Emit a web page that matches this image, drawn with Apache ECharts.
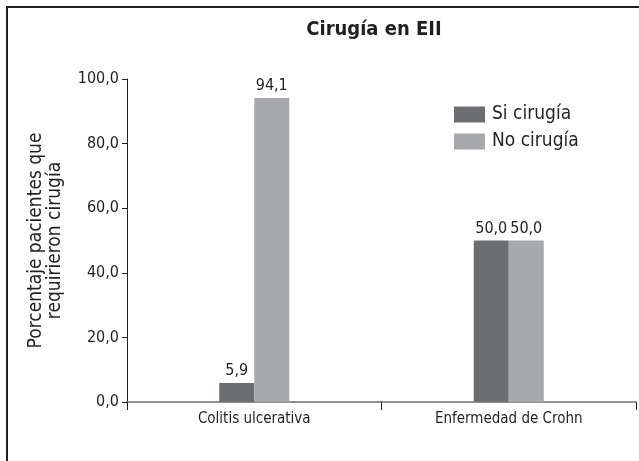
<!DOCTYPE html>
<html>
<head>
<meta charset="utf-8">
<script src="https://cdn.jsdelivr.net/npm/echarts@6/dist/echarts.min.js"></script>
<style>
  html, body { margin: 0; padding: 0; background: #fff; }
  #chart { width: 639px; height: 461px; }
</style>
</head>
<body>
<div id="chart"></div>
<script>
    var categories = ['Colitis ulcerativa', 'Enfermedad de Crohn'];
    var siCirugia = [5.9, 50.0];
    var noCirugia = [94.1, 50.0];
    var seriesNames = ['Si cirugía', 'No cirugía'];

    var font = "'Liberation Sans Narrow', 'DejaVu Sans Condensed', 'Liberation Sans', sans-serif";
    var txt = '#231f20';

    // coma decimal como en el original
    function coma(v) {
        return Number(v).toFixed(1).replace('.', ',');
    }

    var myChart = echarts.init(document.getElementById('chart'));

    var option = {
        backgroundColor: '#fff',
        animation: false,
        textStyle: { fontFamily: font, color: txt },
        title: {
            text: 'Cirugía en EII',
            left: 369,
            textAlign: 'center',
            top: 15,
            textStyle: { fontFamily: font, fontSize: 20, fontWeight: 'bold', color: txt }
        },
        legend: {
            orient: 'vertical',
            left: 449,
            top: 100,
            itemWidth: 31,
            itemHeight: 16,
            itemGap: 8,
            icon: 'rect',
            textStyle: { fontFamily: font, fontSize: 19, color: txt, padding: [0, 0, 0, 2] },
            data: seriesNames
        },
        grid: { left: 127, right: 3, top: 79, bottom: 59, containLabel: false },
        xAxis: {
            type: 'category',
            data: categories,
            axisLine: { lineStyle: { color: '#6d6e71', width: 1.5 } },
            axisTick: { show: true, length: 8, lineStyle: { color: '#231f20' } },
            axisLabel: { fontFamily: font, fontSize: 15, color: txt, margin: 10 }
        },
        yAxis: {
            type: 'value',
            min: 0,
            max: 100,
            interval: 20,
            name: 'Porcentaje pacientes que\nrequirieron cirugía',
            nameLocation: 'middle',
            nameGap: 62,
            nameTextStyle: { fontFamily: font, fontSize: 19, color: txt, lineHeight: 19 },
            axisLine: { show: true, lineStyle: { color: '#231f20' } },
            axisTick: { show: true, length: 5, lineStyle: { color: '#231f20' } },
            splitLine: { show: false },
            axisLabel: {
                fontFamily: font, fontSize: 16, color: txt, margin: 8,
                formatter: function(v) { return coma(v); }
            }
        },
        series: [{
            name: seriesNames[0],
            type: 'bar',
            data: siCirugia,
            barWidth: 35,
            barGap: '0%',
            itemStyle: { color: '#6d6e71' },
            label: {
                show: true, position: 'top', distance: 4,
                fontFamily: font, fontSize: 16, color: txt,
                formatter: function(p) { return coma(p.value); }
            }
        }, {
            name: seriesNames[1],
            type: 'bar',
            data: noCirugia,
            barWidth: 35,
            barGap: '0%',
            itemStyle: { color: '#a7a9ac' },
            label: {
                show: true, position: 'top', distance: 4,
                fontFamily: font, fontSize: 16, color: txt,
                formatter: function(p) { return coma(p.value); }
            }
        }],
        graphic: [
            // marco del recuadro (solo arriba e izquierda visibles)
            { type: 'line', shape: { x1: 6, y1: 7, x2: 639, y2: 7 }, style: { stroke: '#231f20', lineWidth: 2 } },
            { type: 'line', shape: { x1: 7, y1: 6, x2: 7, y2: 461 }, style: { stroke: '#231f20', lineWidth: 2 } }
        ]
    };

    myChart.setOption(option);
</script>
</body>
</html>
